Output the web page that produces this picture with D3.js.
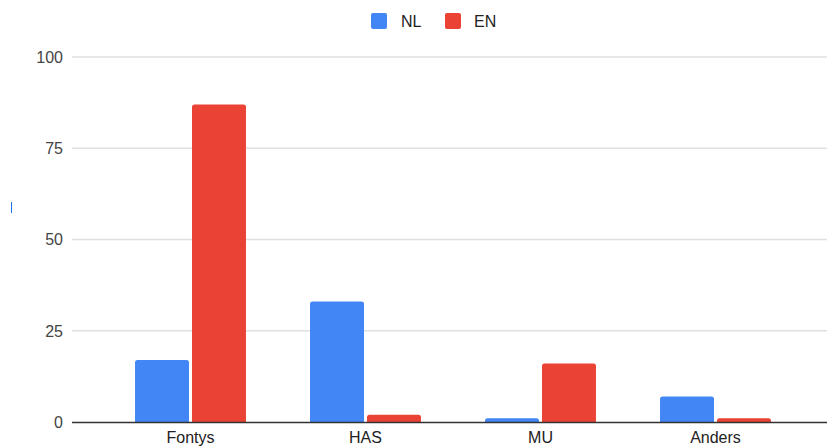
<!DOCTYPE html>
<html><head><meta charset="utf-8">
<script src="https://cdn.jsdelivr.net/npm/d3@7/dist/d3.min.js"></script>
<style>body{margin:0;background:#fff}svg{display:block}text{font-family:Arial,"Liberation Sans",sans-serif}</style>
</head><body><svg id="c" width="827" height="446"></svg>
<script>
const categories = ["Fontys","HAS","MU","Anders"];
const seriesNames = ["NL","EN"];
const nlValues = [17,33,1,7];
const enValues = [87,2,16,1];
const yTicks = [0,25,50,75,100];
const colors = {NL:"#4285F4", EN:"#EA4335"};

const svg = d3.select("#c");
const x = d3.scaleBand().domain(categories).range([103,803]).paddingInner(0.366).paddingOuter(0.183);
const x1 = d3.scaleBand().domain(seriesNames).range([0,x.bandwidth()]).paddingInner(0.0526);
const y = d3.scaleLinear().domain([0,100]).range([422,57]);

// grid
svg.append("g").selectAll("line").data(yTicks.filter(d=>d>0)).join("line")
  .attr("x1",72).attr("x2",827).attr("y1",d=>y(d)).attr("y2",d=>y(d))
  .attr("stroke","#e0e0e0").attr("stroke-width",1.3);

// y labels
svg.append("g").selectAll("text").data(yTicks).join("text")
  .attr("x",63).attr("y",d=>y(d)).attr("dy","0.36em").attr("text-anchor","end")
  .attr("font-size",16).attr("fill","#444").text(d=>d);

const data = categories.map((c,i)=>({cat:c, vals:[{k:"NL",v:nlValues[i]},{k:"EN",v:enValues[i]}]}));
function barPath(x0,w,yt,yb){
  const r = Math.min(2.5, (yb-yt), w/2);
  return `M${x0},${yb}V${yt+r}Q${x0},${yt} ${x0+r},${yt}H${x0+w-r}Q${x0+w},${yt} ${x0+w},${yt+r}V${yb}Z`;
}
svg.append("g").selectAll("g").data(data).join("g")
  .attr("transform",d=>`translate(${x(d.cat)},0)`)
  .selectAll("path").data(d=>d.vals).join("path")
  .attr("d",d=>barPath(x1(d.k),x1.bandwidth(),y(d.v),y(0)))
  .attr("fill",d=>colors[d.k]);

// baseline
svg.append("line").attr("x1",72).attr("x2",827).attr("y1",y(0)+0.5).attr("y2",y(0)+0.5)
  .attr("stroke","#333").attr("stroke-width",1.3);

// x labels
svg.append("g").selectAll("text").data(categories).join("text")
  .attr("x",d=>x(d)+x.bandwidth()/2).attr("y",443).attr("text-anchor","middle")
  .attr("font-size",16).attr("fill","#222").text(d=>d);

// legend
const leg = [{k:"NL",x:371,tx:401},{k:"EN",x:445,tx:474}];
const lg = svg.append("g");
lg.selectAll("rect").data(leg).join("rect")
  .attr("x",d=>d.x).attr("y",13).attr("width",16).attr("height",16).attr("rx",2)
  .attr("fill",d=>colors[d.k]);
lg.selectAll("text").data(leg).join("text")
  .attr("x",d=>d.tx).attr("y",21).attr("dy","0.36em").attr("font-size",16).attr("fill","#222").text(d=>d.k);

// small cursor mark at left
svg.append("line").attr("x1",11.5).attr("x2",11.5).attr("y1",202).attr("y2",213).attr("stroke","#1a73e8").attr("stroke-width",1);
</script></body></html>
